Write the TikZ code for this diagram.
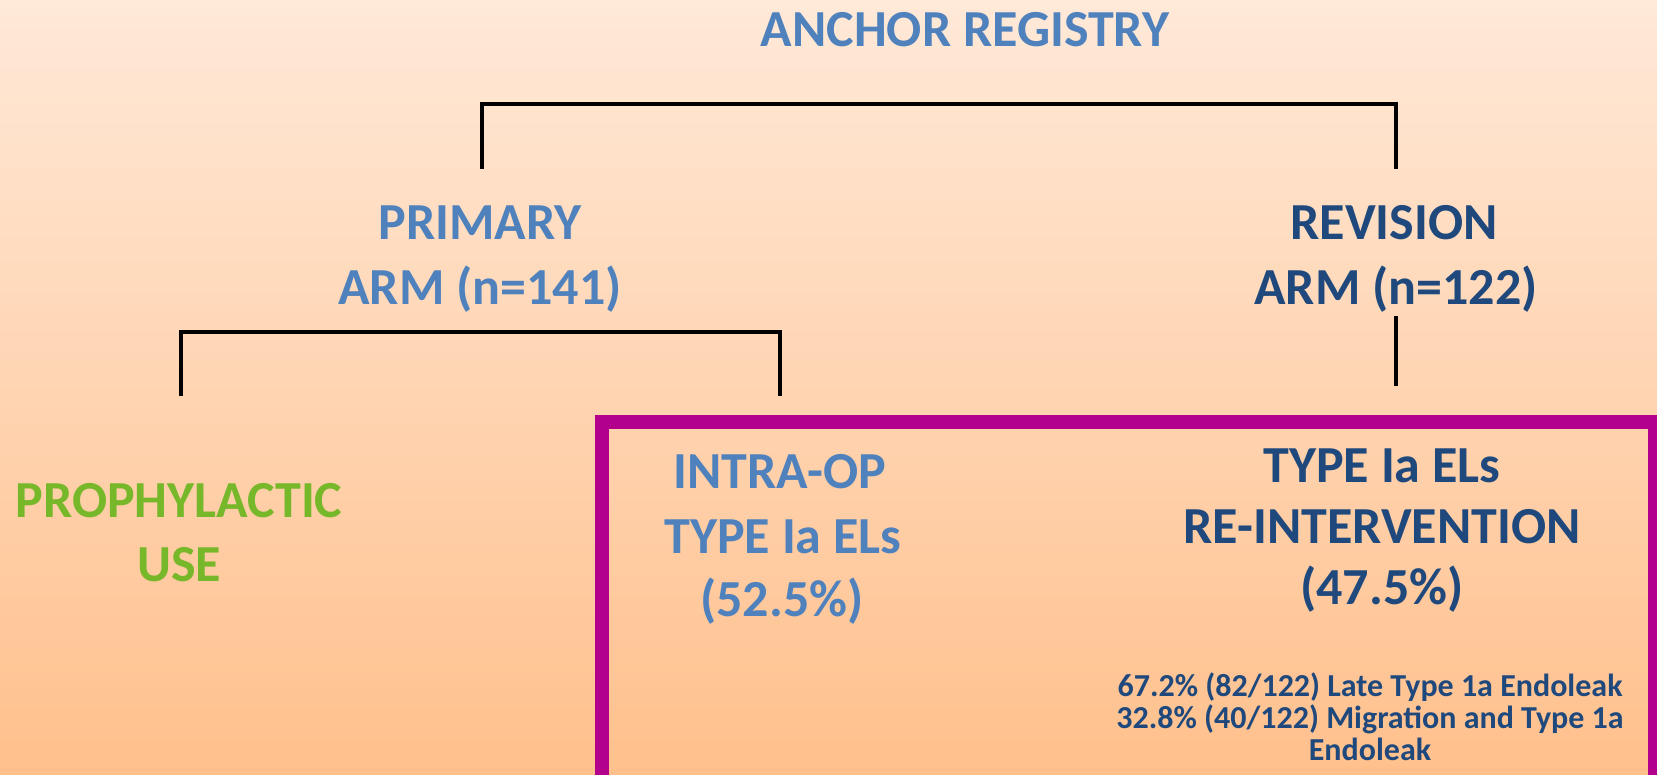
\documentclass[tikz,border=0pt]{standalone}
\usepackage{fontspec}
\setmainfont{Carlito}
\definecolor{lblue}{HTML}{4F81BD}
\definecolor{dblue}{HTML}{1F497D}
\definecolor{lgreen}{HTML}{77B82A}
\definecolor{magframe}{HTML}{B3008C}
\definecolor{bgtop}{RGB}{255,233,216}
\definecolor{bgbot}{RGB}{255,192,140}
\begin{document}
\begin{tikzpicture}[x=1pt,y=-1pt,
  big/.style={anchor=base,inner sep=0pt,font=\fontsize{52}{62}\selectfont\bfseries},
  small/.style={anchor=base,inner sep=0pt,font=\fontsize{32}{36}\selectfont\bfseries,text=dblue},
  link/.style={draw=black,line width=3.5pt},
  frame/.style={draw=magframe,line width=14pt}]
\useasboundingbox (0,0) rectangle (1657,775);
\shade[top color=bgtop,bottom color=bgbot] (0,0) rectangle (1657,775);
\clip (0,0) rectangle (1657,775);

% titles
\node[big,text=lblue] (anchor) at (965,46.5) {ANCHOR REGISTRY};
\node[big,text=lblue] (prim1) at (480,240) {PRIMARY};
\node[big,text=lblue] (prim2) at (480,305) {ARM (n=141)};
\node[big,text=dblue] (rev1) at (1394,240) {REVISION};
\node[big,text=dblue] (rev2) at (1396,305) {ARM (n=122)};
\node[big,text=lgreen] (proph1) at (179,517) {PROPHYLACTIC};
\node[big,text=lgreen] (proph2) at (179,581) {USE};
\node[big,text=lblue] (intra1) at (780,488) {INTRA-OP};
\node[big,text=lblue] (intra2) at (783,553) {TYPE Ia ELs};
\node[big,text=lblue] (intra3) at (782,616) {(52.5\%)};
\node[big,text=dblue] (tia1) at (1382,482) {TYPE Ia ELs};
\node[big,text=dblue] (tia2) at (1382,543) {RE-INTERVENTION};
\node[big,text=dblue] (tia3) at (1382,604) {(47.5\%)};
\node[small] (det1) at (1370,696) {67.2\% (82/122) Late Type 1a Endoleak};
\node[small] (det2) at (1370,728) {32.8\% (40/122) Migration and Type 1a};
\node[small] (det3) at (1370,760) {Endoleak};

% connector ends
\coordinate (b1l) at (482,169);
\coordinate (b1r) at (1396,169);
\coordinate (b1m) at (1396,104);
\coordinate (b2l) at (181,396);
\coordinate (b2r) at (780,396);
\coordinate (b2m) at (780,332);
\coordinate (b3t) at (1396,316);
\coordinate (b3b) at (1396,386);

\draw[link] (b1l) |- (b1m) -- (b1r);
\draw[link] (b2l) |- (b2m) -- (b2r);
\draw[link] (b3t) -- (b3b);

% magenta frame
\coordinate (fbl) at (602,800);
\coordinate (ftr) at (1655,422);
\draw[frame] (fbl) |- (ftr) -- (1655,800);
\end{tikzpicture}
\end{document}
